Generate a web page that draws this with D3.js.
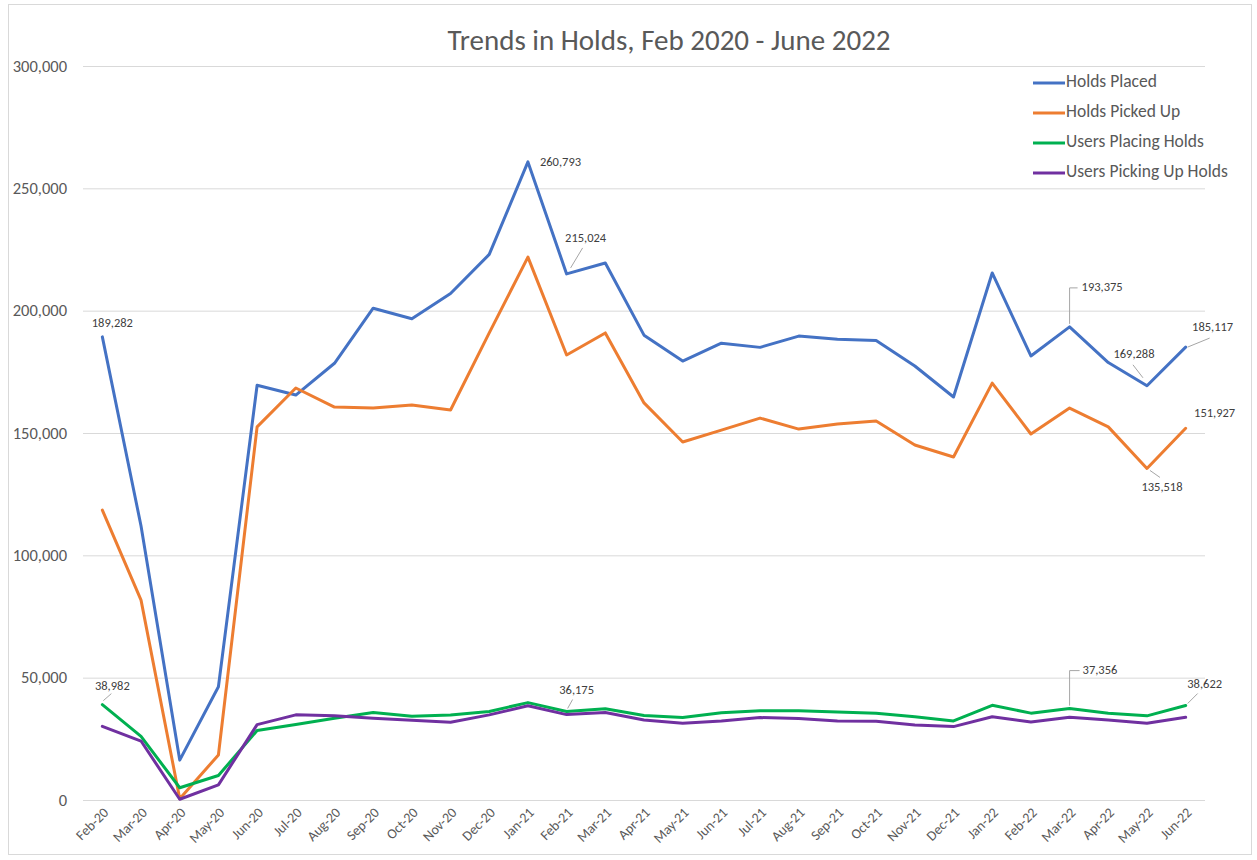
<!DOCTYPE html>
<html>
<head>
<meta charset="utf-8">
<script src="https://cdn.jsdelivr.net/npm/d3@7"></script>
<style>
  html, body { margin: 0; padding: 0; background: #fff; }
  svg { display: block; font-family: Carlito, Calibri, Lato, "Open Sans", sans-serif; }
</style>
</head>
<body>
<svg id="chart" width="1257" height="860"></svg>
<script>
// ---- Data ----
const months = ["Feb-20","Mar-20","Apr-20","May-20","Jun-20","Jul-20","Aug-20","Sep-20","Oct-20","Nov-20","Dec-20",
  "Jan-21","Feb-21","Mar-21","Apr-21","May-21","Jun-21","Jul-21","Aug-21","Sep-21","Oct-21","Nov-21","Dec-21",
  "Jan-22","Feb-22","Mar-22","Apr-22","May-22","Jun-22"];

const holdsPlaced = [189282,112000,16300,46300,169500,165500,178500,201000,196700,207000,223000,
  260793,215024,219500,190000,179400,186700,185000,189600,188300,187800,177400,164700,
  215400,181500,193375,178800,169288,185117];

const holdsPickedUp = [118500,81700,500,18400,152500,168400,160600,160200,161400,159400,190900,
  221900,181900,190900,162300,146300,151200,156100,151600,153700,154900,145100,140200,
  170400,149600,160200,152500,135518,151927];

const usersPlacing = [38982,26000,5000,10000,28400,30900,33400,35800,34200,34700,36200,
  39800,36175,37300,34500,33700,35700,36500,36500,36000,35500,34000,32300,
  38700,35500,37356,35500,34400,38622];

const usersPickingUp = [30100,24100,300,6200,30800,34800,34400,33400,32600,31800,34800,
  38500,34900,35800,32700,31400,32300,33700,33300,32300,32200,30700,30000,
  34000,31900,33800,32700,31400,33800];

const seriesNames = ["Holds Placed","Holds Picked Up","Users Placing Holds","Users Picking Up Holds"];
const seriesValues = [holdsPlaced, holdsPickedUp, usersPlacing, usersPickingUp];
const seriesColors = ["#4472C4","#ED7D31","#00B050","#7030A0"];
const yTicks = [0,50000,100000,150000,200000,250000,300000];
const titleText = "Trends in Holds, Feb 2020 - June 2022";

// data labels: series index, month index
const labelPoints = [
  [0,0],[0,11],[0,12],[0,25],[0,27],[0,28],
  [1,27],[1,28],
  [2,0],[2,12],[2,25],[2,28]
];
// label placement (offset from point, anchor, leader type)
const labelPlacement = {
  "0-0":  {dx:10, dy:-13, anchor:"middle"},
  "0-11": {dx:12, dy:1, anchor:"start"},
  "0-12": {dx:19, dy:-35, anchor:"middle", leader:[[4,-6],[16,-26]]},
  "0-25": {dx:12, dy:-39, anchor:"start", leader:[[0,-3],[0,-39],[8,-39]]},
  "0-27": {dx:-13, dy:-31, anchor:"middle", leader:[[-4,-8],[-14,-21]]},
  "0-28": {dx:27, dy:-19, anchor:"middle", leader:[[2,0],[24,-9]]},
  "1-27": {dx:15, dy:20, anchor:"middle", leader:[[3,2],[13,9]]},
  "1-28": {dx:29, dy:-14, anchor:"middle"},
  "2-0":  {dx:10, dy:-18, anchor:"middle", leader:[[1,-4],[9,-11]]},
  "2-12": {dx:10, dy:-20, anchor:"middle", leader:[[1,-3],[6,-12]]},
  "2-25": {dx:13, dy:-38, anchor:"start", leader:[[0,-3],[0,-38],[10,-38]]},
  "2-28": {dx:19, dy:-20, anchor:"middle", leader:[[2,-2],[12,-12]]}
};

// ---- Layout ----
const svg = d3.select("#chart");
const W = 1257, H = 860;
const plot = {left: 83, right: 1205, top: 66, bottom: 800};

svg.append("rect").attr("x", 0).attr("y", 0).attr("width", W).attr("height", H).attr("fill", "#fff");
svg.append("rect").attr("x", 8.5).attr("y", 4.5).attr("width", 1243).attr("height", 850)
  .attr("fill", "none").attr("stroke", "#d9d9d9").attr("stroke-width", 1);

const x = d3.scalePoint().domain(months).range([plot.left, plot.right]).padding(0.5);
const y = d3.scaleLinear().domain([0, 300000]).range([plot.bottom, plot.top]);

// gridlines
const yAxis = d3.axisLeft(y).tickValues(yTicks).tickSize(-(plot.right - plot.left)).tickPadding(16)
  .tickFormat(d3.format(","));
const gy = svg.append("g").attr("transform", `translate(${plot.left},0)`).call(yAxis);
gy.select(".domain").remove();
gy.selectAll(".tick line").attr("stroke", "#d9d9d9").attr("stroke-width", 1);
gy.selectAll(".tick text").attr("fill", "#595959").attr("font-size", "16.5px")
  .attr("font-family", "Carlito, Calibri, Lato, sans-serif");

// x axis labels
const xAxis = d3.axisBottom(x).tickSize(0).tickPadding(0);
const gx = svg.append("g").attr("transform", `translate(0,${plot.bottom})`).call(xAxis);
gx.select(".domain").remove();
gx.selectAll(".tick text")
  .attr("fill", "#595959").attr("font-size", "14px")
  .attr("font-family", "Carlito, Calibri, Lato, sans-serif")
  .attr("text-anchor", "end")
  .attr("dy", null)
  .attr("transform", "translate(4,11) rotate(-45)")
  .attr("dominant-baseline", "middle");

// title
svg.append("text").attr("x", 669).attr("y", 50).attr("text-anchor", "middle")
  .attr("font-size", "29px").attr("fill", "#595959").text(titleText);

// lines
const line = d3.line().x((d, i) => x(months[i])).y(d => y(d));
seriesValues.forEach((vals, si) => {
  svg.append("path").datum(vals).attr("d", line).attr("fill", "none")
    .attr("stroke", seriesColors[si]).attr("stroke-width", 3)
    .attr("stroke-linejoin", "round").attr("stroke-linecap", "round");
});

// data labels
const fmt = d3.format(",");
labelPoints.forEach(([si, mi]) => {
  const p = labelPlacement[si + "-" + mi];
  const px = x(months[mi]), py = y(seriesValues[si][mi]);
  if (p.leader) {
    svg.append("path")
      .attr("d", d3.line()(p.leader.map(([a, b]) => [px + a, py + b])))
      .attr("fill", "none").attr("stroke", "#a6a6a6").attr("stroke-width", 1);
  }
  svg.append("text").attr("x", px + p.dx).attr("y", py + p.dy)
    .attr("text-anchor", p.anchor).attr("dominant-baseline", "middle")
    .attr("font-size", "12.5px").attr("fill", "#404040")
    .text(fmt(seriesValues[si][mi]));
});

// legend
const lg = svg.append("g").attr("transform", "translate(1033,83)");
seriesNames.forEach((name, i) => {
  const g = lg.append("g").attr("transform", `translate(0,${i * 30})`);
  g.append("line").attr("x1", 0).attr("x2", 32).attr("y1", 0).attr("y2", 0)
    .attr("stroke", seriesColors[i]).attr("stroke-width", 3);
  g.append("text").attr("x", 33).attr("y", 0).attr("dominant-baseline", "middle")
    .attr("font-size", "17.5px").attr("fill", "#595959").text(name);
});
</script>
</body>
</html>
